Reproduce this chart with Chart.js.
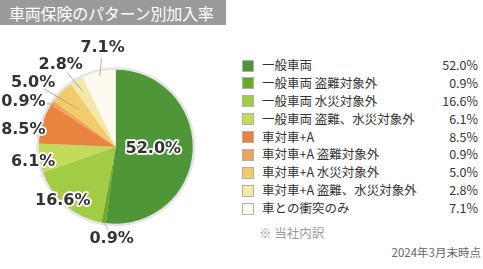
<!DOCTYPE html>
<html><head><meta charset="utf-8">
<script src="https://cdn.jsdelivr.net/npm/chart.js@4.4.1/dist/chart.umd.min.js"></script>
<style>
html,body{margin:0;padding:0;background:#fff;width:483px;height:269px;overflow:hidden;font-family:"Noto Sans CJK JP","Noto Sans",sans-serif;}
#title{position:absolute;left:0;top:0;width:226px;height:25px;background:#9a9a9a;color:#fff;font-size:16px;line-height:26px;padding-left:9px;box-sizing:border-box;white-space:nowrap;letter-spacing:-0.2px;}
#wrap{position:absolute;left:0;top:0;width:235px;height:269px;}
#legend{position:absolute;left:242px;top:56px;width:238px;}
.row{position:relative;height:17.9px;font-size:12.5px;color:#333;line-height:18px;}
.sw{position:absolute;left:0;top:3.5px;width:10px;height:10px;border:1px solid #b0b0b0;box-sizing:content-box;}
.lb{position:absolute;left:20px;top:0;white-space:nowrap;}
.vl{position:absolute;right:2px;top:0;}
#note{position:absolute;left:259px;top:223px;font-size:12.5px;color:#9a9a9a;}
#date{position:absolute;right:2px;top:244px;font-size:11.5px;color:#666;}
</style></head>
<body>
<div id="title">車両保険のパターン別加入率</div>
<div id="wrap"><canvas id="c" width="235" height="269"></canvas></div>
<div id="legend"></div>
<div id="note">※ 当社内訳</div>
<div id="date">2024年3月末時点</div>
<script>
const categories = ["一般車両","一般車両 盗難対象外","一般車両 水災対象外","一般車両 盗難、水災対象外","車対車+A","車対車+A 盗難対象外","車対車+A 水災対象外","車対車+A 盗難、水災対象外","車との衝突のみ"];
const shares = [52.0, 0.9, 16.6, 6.1, 8.5, 0.9, 5.0, 2.8, 7.1];
const colors = ["#4f9638","#6aad22","#a3cc45","#c4da5a","#e8843f","#eea75a","#f2cb6c","#f4e8a6","#fffaf0"];
// label placement: angle shift (deg) from slice middle, text radius factor, leader line inner factor (null = none)
const labelPlace = [
  {dA:0,rf:0.49,line:null},
  {dA:-6.5,rf:1.2,line:0.98},
  {dA:4,rf:0.98,line:null},
  {dA:-1.7,rf:1.09,line:null},
  {dA:-7.3,rf:1.22,line:null},
  {dA:-9,rf:1.33,line:0.97},
  {dA:-7.4,rf:1.36,line:0.68},
  {dA:-3.3,rf:1.28,line:0.83},
  {dA:5.2,rf:1.29,line:0.94}
];
const fmt = v => v.toFixed(1) + "%";

const leg = document.getElementById('legend');
categories.forEach((c,i)=>{
  const r = document.createElement('div'); r.className='row';
  r.innerHTML = '<span class="sw" style="background:'+colors[i]+'"></span><span class="lb">'+c+'</span><span class="vl">'+fmt(shares[i])+'</span>';
  leg.appendChild(r);
});

const ringPlugin = {
  id:'ring',
  beforeDatasetsDraw(chart){
    const arc = chart.getDatasetMeta(0).data[0];
    const ctx = chart.ctx;
    ctx.save();
    ctx.beginPath();
    ctx.arc(arc.x, arc.y, arc.outerRadius + 2.5, 0, Math.PI*2);
    ctx.fillStyle = '#e4e4e4';
    ctx.fill();
    ctx.restore();
  },
  afterDatasetsDraw(chart){
    const meta = chart.getDatasetMeta(0);
    const ctx = chart.ctx;
    ctx.save();
    meta.data.forEach((a,i)=>{
      const p = labelPlace[i];
      const mid = (a.startAngle + a.endAngle)/2;
      const ang = mid + p.dA*Math.PI/180;
      const R = a.outerRadius;
      const tx = a.x + Math.cos(ang)*R*p.rf;
      const ty = a.y + Math.sin(ang)*R*p.rf;
      if (p.line !== null) {
        const sx = a.x + Math.cos(mid)*R*p.line;
        const sy = a.y + Math.sin(mid)*R*p.line;
        const dx = tx - sx, dy = ty - sy, d = Math.hypot(dx,dy);
        const ex = tx - dx/d*10, ey = ty - dy/d*10;
        ctx.beginPath(); ctx.moveTo(sx,sy); ctx.lineTo(ex,ey);
        ctx.strokeStyle = '#999'; ctx.lineWidth = 0.8; ctx.stroke();
      }
    });
    meta.data.forEach((a,i)=>{
      const p = labelPlace[i];
      const mid = (a.startAngle + a.endAngle)/2;
      const ang = mid + p.dA*Math.PI/180;
      const R = a.outerRadius;
      const tx = a.x + Math.cos(ang)*R*p.rf;
      const ty = a.y + Math.sin(ang)*R*p.rf;
      ctx.font = 'bold 16px "DejaVu Sans"';
      ctx.textAlign = 'center'; ctx.textBaseline = 'middle';
      ctx.lineJoin = 'round';
      ctx.strokeStyle = '#fff'; ctx.lineWidth = 3.5;
      const t = fmt(shares[i]);
      ctx.strokeText(t, tx, ty);
      ctx.fillStyle = '#333';
      ctx.fillText(t, tx, ty);
    });
    ctx.restore();
  }
};

new Chart(document.getElementById('c'), {
  type:'pie',
  data:{labels:categories, datasets:[{data:shares, backgroundColor:colors, borderWidth:0, hoverOffset:0}]},
  options:{
    responsive:false, animation:false, events:[],
    layout:{padding:{left:38.7,right:42.3,top:69.7,bottom:45.3}},
    plugins:{legend:{display:false}, tooltip:{enabled:false}}
  },
  plugins:[ringPlugin]
});
</script>
</body></html>
